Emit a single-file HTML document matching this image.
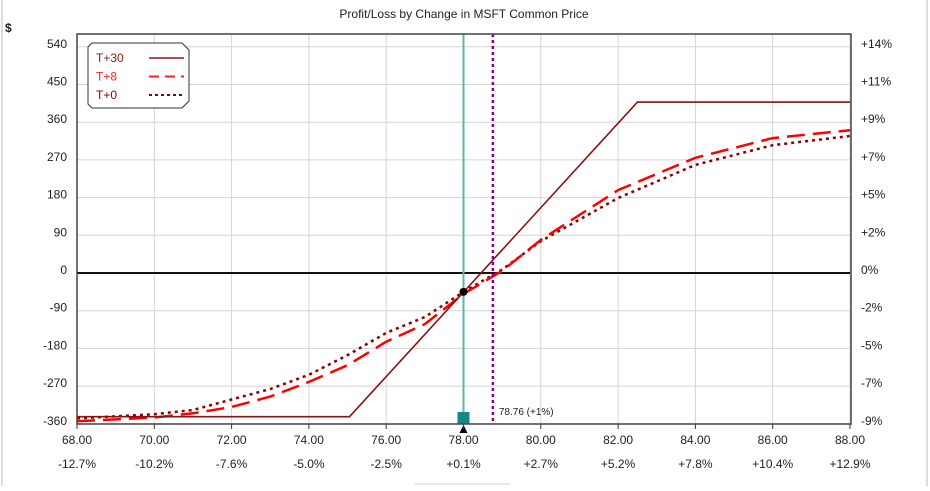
<!DOCTYPE html>
<html><head><meta charset="utf-8"><style>
body{margin:0;background:#fff;width:930px;height:486px;overflow:hidden;font-family:"Liberation Sans",sans-serif}
svg text{font-family:"Liberation Sans",sans-serif;font-size:12px;fill:#222}
</style></head><body>
<svg id="chart" width="930" height="486">
<line x1="2" y1="0" x2="2" y2="486" stroke="#bbb"/>
<line x1="927" y1="0" x2="927" y2="486" stroke="#bbb"/>
<line x1="415" y1="484" x2="510" y2="484" stroke="#ccc"/>
<text x="464" y="18" text-anchor="middle">Profit/Loss by Change in MSFT Common Price</text>
<text x="5" y="32" font-weight="bold">$</text>
<g id="grid"></g>
<g id="series"></g>
<g id="axes"></g>
</svg>
<script>
const xTicks=[68,70,72,74,76,78,80,82,84,86,88];
const xPctLabels=["-12.7%","-10.2%","-7.6%","-5.0%","-2.5%","+0.1%","+2.7%","+5.2%","+7.8%","+10.4%","+12.9%"];
const yTicks=[540,450,360,270,180,90,0,-90,-180,-270,-360];
const yPctLabels=["+14%","+11%","+9%","+7%","+5%","+2%","0%","-2%","-5%","-7%","-9%"];
const t30Prices=[68,75.05,82.5,88];
const t30Values=[-343,-343,408,408];
const t8Prices=[68,70,71,72,73,74,75,76,77,78,79,80,82,84,86,88];
const t8Values=[-354,-345,-335,-320,-295,-260,-220,-164,-122,-50,5,79,198,275,322,341];
const t0Prices=[68,70,71,72,73,74,75,76,77,78,79,80,82,84,86,88];
const t0Values=[-347,-337,-327,-302,-277,-243,-196,-143,-105,-45,8,76,179,258,305,327];
const currentPrice=78.0, currentPL=-45, breakEven=78.76, breakEvenLabel="78.76 (+1%)";

const L=77,R=850,T=34,B=424;
const X=v=>L+(v-68)*(R-L)/20;
const Y=v=>273-v*0.4189;
const NS="http://www.w3.org/2000/svg";
function mk(parent,tag,attrs,txt){const e=document.createElementNS(NS,tag);for(const k in attrs)e.setAttribute(k,attrs[k]);if(txt!=null)e.textContent=txt;document.getElementById(parent).appendChild(e);return e;}

xTicks.forEach((t,i)=>{
  const g=mk('grid','line',{x1:X(t),x2:X(t),y1:T,y2:B,stroke:'#d4d4d4'});
  
  
  const tk=mk('axes','line',{x1:X(t),x2:X(t),y1:B,y2:B+5,stroke:'#333'});
  
  
  const a=mk('axes','text',{x:X(t),y:444,'text-anchor':'middle'},t.toFixed(2));
  
  
  const b=mk('axes','text',{x:X(t),y:468,'text-anchor':'middle'},xPctLabels[i]);
  
  
});
yTicks.forEach((t,i)=>{
  const g=mk('grid','line',{x1:L,x2:R,y1:Y(t),y2:Y(t),stroke:t===0?'#111':'#d4d4d4','stroke-width':t===0?2:1});
  
  
  const a=mk('axes','text',{x:67,y:Y(t)+1,'text-anchor':'end'},String(t));
  
  
  const b=mk('axes','text',{x:861,y:Y(t)+1},yPctLabels[i]);
  
  
});
const fr=mk('axes','rect',{x:L,y:T,width:R-L+1,height:B-T,fill:'none',stroke:'#444','stroke-width':1.5});



function pts(px,py){return px.map((p,i)=>X(p).toFixed(1)+','+Y(py[i]).toFixed(1)).join(' ');}
const s0=mk('series','polyline',{points:pts(t0Prices,t0Values),fill:'none',stroke:'#8b0000','stroke-width':2.5,'stroke-dasharray':'3,4'});


const s8=mk('series','polyline',{points:pts(t8Prices,t8Values),fill:'none',stroke:'#ff0000','stroke-width':2.5,'stroke-dasharray':'18,8'});


const s30=mk('series','polyline',{points:pts(t30Prices,t30Values),fill:'none',stroke:'#8b1010','stroke-width':1.6});



const vl=mk('series','line',{x1:X(currentPrice),x2:X(currentPrice),y1:T,y2:B,stroke:'#5fb3b0','stroke-width':2});


const bl=mk('series','line',{x1:X(breakEven),x2:X(breakEven),y1:T,y2:B,stroke:'#8b008b','stroke-width':2.5,'stroke-dasharray':'3,3'});


const bt=mk('series','text',{x:X(breakEven)+6,y:415,'font-size':'10'},breakEvenLabel);


bt.style.fontSize='10px';
const dot=mk('series','circle',{cx:X(currentPrice),cy:Y(currentPL),r:4,fill:'#000'});


const sq=mk('series','rect',{x:X(currentPrice)-6,y:412,width:12,height:12,fill:'#138a85'});


const tri=mk('series','polygon',{points:`${X(currentPrice)-4},433 ${X(currentPrice)+4},433 ${X(currentPrice)},425`,fill:'#000'});



// legend
const lg=mk('axes','path',{d:'M92,43 H182 L189,50 V101 L182,108 H92 L88,104 V47 Z',fill:'#fff',stroke:'#333'});


[['T+30','#8b1a1a',null,1.6],['T+8','#ff2020','10,6',2],['T+0','#8b0000','3,3',2]].forEach((e,i)=>{
  const y=58+i*18.5;
  const t=mk('axes','text',{x:96,y:y+4,fill:e[1]},e[0]);
  
  
  t.style.fill=e[1];
  const a={x1:149,x2:184,y1:y,y2:y,stroke:e[1],'stroke-width':e[3]};
  if(e[2])a['stroke-dasharray']=e[2];
  const l=mk('axes','line',a);
  
  
});
</script>
</body></html>
